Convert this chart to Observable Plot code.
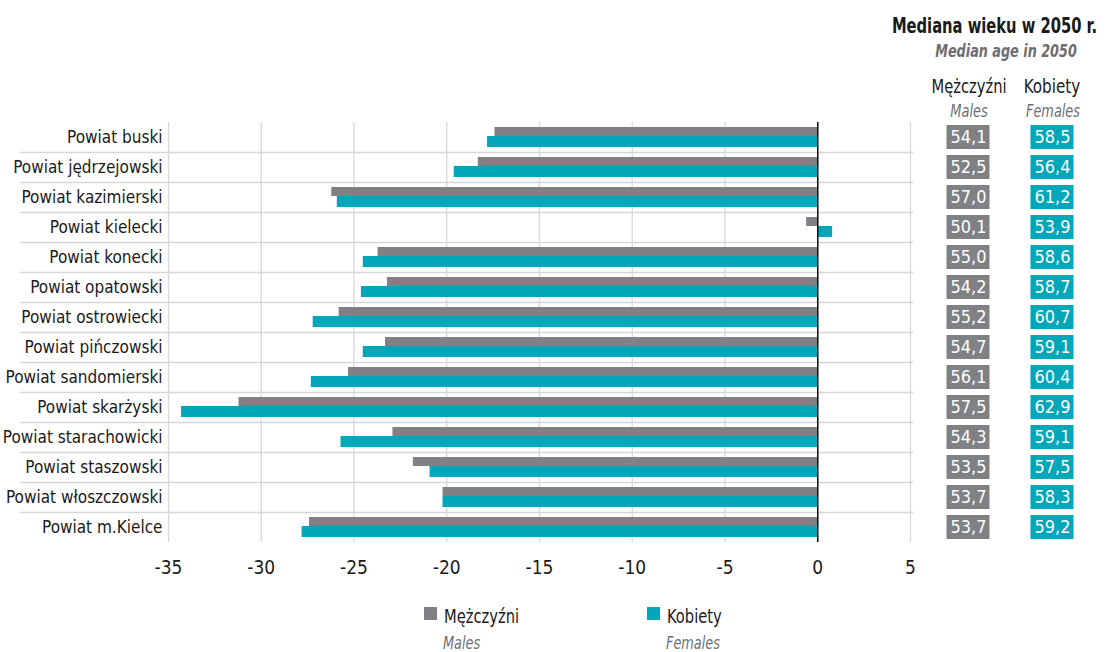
<!DOCTYPE html>
<html><head><meta charset="utf-8">
<script src="https://cdn.jsdelivr.net/npm/d3@7"></script>
<script src="https://cdn.jsdelivr.net/npm/@observablehq/plot@0.6"></script>
<style>
body{margin:0;background:#fff;}
#wrap{position:relative;width:1109px;height:652px;overflow:hidden;font-family:"Liberation Sans Narrow","DejaVu Sans Condensed","Roboto Condensed","Arial Narrow",sans-serif;color:#1a1a1a}
.abs{position:absolute;white-space:nowrap;line-height:1}
.it{font-style:italic;color:#6d6e71}
svg{position:absolute;top:0}
</style></head><body><div id="wrap"></div>
<script>
const categories = ["Powiat buski","Powiat jędrzejowski","Powiat kazimierski","Powiat kielecki","Powiat konecki","Powiat opatowski","Powiat ostrowiecki","Powiat pińczowski","Powiat sandomierski","Powiat skarżyski","Powiat starachowicki","Powiat staszowski","Powiat włoszczowski","Powiat m.Kielce"];
const males   = [-17.4,-18.3,-26.2,-0.6,-23.7,-23.2,-25.8,-23.3,-25.3,-31.2,-22.9,-21.8,-20.2,-27.4];
const females = [-17.8,-19.6,-25.9, 0.8,-24.5,-24.6,-27.2,-24.5,-27.3,-34.3,-25.7,-20.9,-20.2,-27.8];
const medianMales   = [54.1,52.5,57.0,50.1,55.0,54.2,55.2,54.7,56.1,57.5,54.3,53.5,53.7,53.7];
const medianFemales = [58.5,56.4,61.2,53.9,58.6,58.7,60.7,59.1,60.4,62.9,59.1,57.5,58.3,59.2];
const xTicks = [-35,-30,-25,-20,-15,-10,-5,0,5];
const seriesKeys = ["M","K"];
const seriesLabels = ["Mężczyźni","Kobiety"];
const seriesLabelsEn = ["Males","Females"];

const FONT = '"Liberation Sans Narrow","DejaVu Sans Condensed","Roboto Condensed","Arial Narrow",sans-serif';
const GRAY = "#808185", TEAL = "#00a7b9", GRID = "#d8d8d8";

const rows = categories.map((c,i)=>({cat:c, m:males[i], f:females[i]}));
const tableRows = categories.flatMap((c,i)=>[{cat:c,s:"M",v:medianMales[i]},{cat:c,s:"K",v:medianFemales[i]}]);
const fmt = v => v.toFixed(1).replace(".", ",");

const wrap = document.getElementById("wrap");

const chart = Plot.plot({
  width: 930, height: 580,
  marginTop: 122, marginBottom: 38, marginLeft: 168, marginRight: 20,
  style: {fontFamily: FONT, fontSize: "19px", color: "#1a1a1a", background: "transparent", overflow: "visible"},
  x: {domain: [-35, 5], ticks: xTicks, tickFormat: d => String(d), tickSize: 0, tickPadding: 18, label: null},
  y: {domain: categories, padding: 0, axis: null},
  marks: [
    Plot.ruleX(xTicks, {stroke: GRID, strokeWidth: 1.3}),
    Plot.ruleY(categories.slice(0, -1), {y: d => d, dy: 15, stroke: GRID, strokeWidth: 1.3, insetLeft: -148, insetRight: -3}),
    Plot.barX(rows, {y: "cat", x: "m", fill: GRAY, insetTop: 5, insetBottom: 16}),
    Plot.barX(rows, {y: "cat", x: "f", fill: TEAL, insetTop: 14, insetBottom: 5}),
    Plot.ruleX([0], {stroke: "#111", strokeWidth: 1.5}),
    Plot.text(categories, {y: d => d, frameAnchor: "left", textAnchor: "end", dx: -6, text: d => d, fontSize: 17, fill: "#1a1a1a"})
  ]
});
chart.style.left = "0px";
wrap.appendChild(chart);

const table = Plot.plot({
  width: 183, height: 580,
  marginTop: 122, marginBottom: 38, marginLeft: 0, marginRight: 15,
  style: {fontFamily: FONT, background: "transparent"},
  x: {domain: seriesKeys, padding: 0, axis: null},
  y: {domain: categories, padding: 0, axis: null},
  color: {domain: seriesKeys, range: [GRAY, TEAL]},
  marks: [
    Plot.cell(tableRows, {x: "s", y: "cat", fill: "s", insetLeft: 20.5, insetRight: 20.5, insetTop: 3, insetBottom: 3}),
    Plot.text(tableRows, {x: "s", y: "cat", text: d => fmt(d.v), fill: "white", fontSize: 18})
  ]
});
table.style.left = "926px";
wrap.appendChild(table);

// align: "left" | "center" | "right"; x is the anchor point
function addText(txt, x, y, size, cls, align, sx, extra) {
  const d = document.createElement("div");
  d.className = "abs " + (cls || "");
  d.textContent = txt;
  d.style.top = (y - size / 2) + "px";
  d.style.fontSize = size + "px";
  let tr = "";
  if (align === "center") { d.style.left = x + "px"; tr = "translateX(-50%) "; d.style.transformOrigin = "50% 50%"; }
  else if (align === "right") { d.style.right = (1109 - x) + "px"; d.style.transformOrigin = "100% 50%"; }
  else { d.style.left = x + "px"; d.style.transformOrigin = "0 50%"; }
  d.style.transform = tr + "scaleX(" + sx + ")";
  if (extra) Object.assign(d.style, extra);
  wrap.appendChild(d);
  return d;
}
// header of the table
addText("Mediana wieku w 2050 r.", 1097, 26, 21, "", "right", 0.78, {fontWeight: "bold"});
addText("Median age in 2050", 1006, 51, 18, "it", "center", 0.79, {fontWeight: "bold"});
addText(seriesLabels[0], 969, 86, 19, "", "center", 0.86);
addText(seriesLabels[1], 1052, 86, 19, "", "center", 0.89);
addText(seriesLabelsEn[0], 969, 111, 17, "it", "center", 0.85);
addText(seriesLabelsEn[1], 1053, 111, 17, "it", "center", 0.84);

// legend
const legendX = [424, 647];
const legendColors = [GRAY, TEAL];
legendX.forEach((x, i) => {
  const sq = document.createElement("div");
  sq.className = "abs";
  Object.assign(sq.style, {left: x + "px", top: "607px", width: "13px", height: "13px", background: legendColors[i]});
  wrap.appendChild(sq);
  addText(seriesLabels[i], x + 20, 616, 19, "", "left", 0.86);
  addText(seriesLabelsEn[i], x + 19, 643, 17, "it", "left", 0.84);
});
</script></body></html>
